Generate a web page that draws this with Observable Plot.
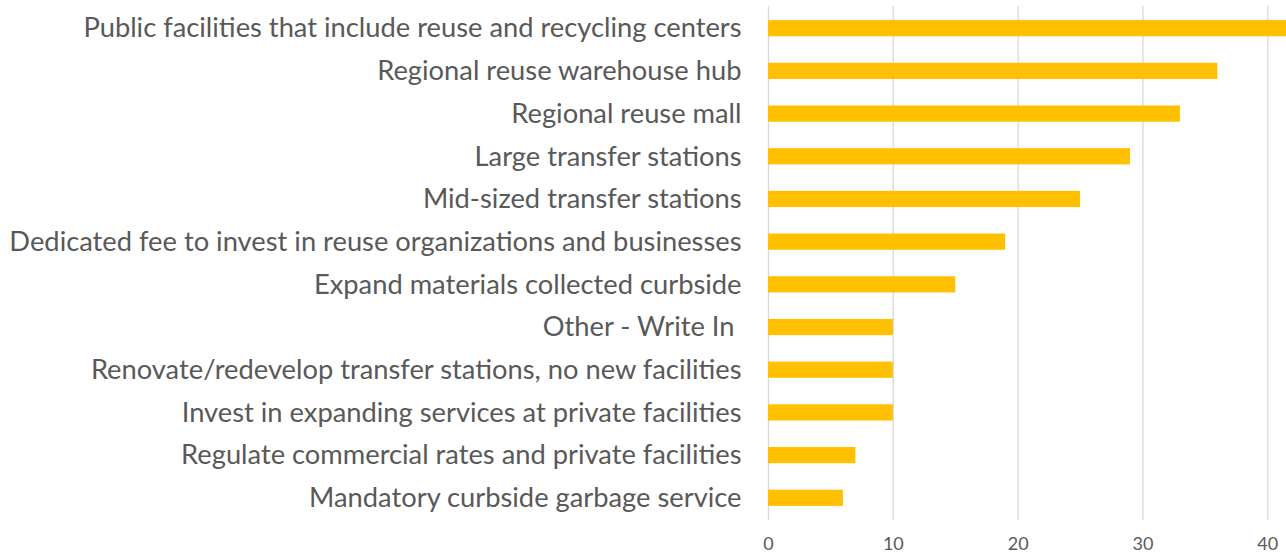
<!DOCTYPE html>
<html>
<head>
<meta charset="utf-8">
<script src="https://cdn.jsdelivr.net/npm/d3@7"></script>
<script src="https://cdn.jsdelivr.net/npm/@observablehq/plot@0.6"></script>
<style>
  html, body { margin: 0; padding: 0; background: #fff; }
  #chart svg { display: block; }
</style>
</head>
<body>
<div id="chart"></div>
<script>
const categories = [
  "Public facilities that include reuse and recycling centers",
  "Regional reuse warehouse hub",
  "Regional reuse mall",
  "Large transfer stations",
  "Mid-sized transfer stations",
  "Dedicated fee to invest in reuse organizations and businesses",
  "Expand materials collected curbside",
  "Other - Write In ",
  "Renovate/redevelop transfer stations, no new facilities",
  "Invest in expanding services at private facilities",
  "Regulate commercial rates and private facilities",
  "Mandatory curbside garbage service"
];
const values = [42, 36, 33, 29, 25, 19, 15, 10, 10, 10, 7, 6];
const xTicks = [0, 10, 20, 30, 40];

const data = categories.map((c, i) => ({category: c, value: values[i]}));

const chart = Plot.plot({
  width: 1286,
  height: 557,
  marginLeft: 768,
  marginRight: 0,
  marginTop: 6,
  marginBottom: 37,
  style: {fontFamily: "Lato, 'Open Sans', sans-serif", color: "#595959", background: "#fff"},
  x: {domain: [0, 41.5], ticks: xTicks, tickSize: 0, label: null},
  y: {domain: categories, paddingInner: 0.62, paddingOuter: 0.33, round: false, label: null},
  marks: [
    Plot.gridX(xTicks, {stroke: "#d9d9d9", strokeOpacity: 1, strokeWidth: 1.3}),
    Plot.barX(data, {x: "value", y: "category", fill: "#ffc000", clip: true}),
    Plot.axisX({ticks: xTicks, tickSize: 0, tickPadding: 17, fontSize: 18, fill: "#595959", label: null}),
    Plot.axisY({tickSize: 0, tickPadding: 27, fontSize: 27.3, fill: "#595959", label: null})
  ]
});
document.getElementById("chart").appendChild(chart);
</script>
</body>
</html>
